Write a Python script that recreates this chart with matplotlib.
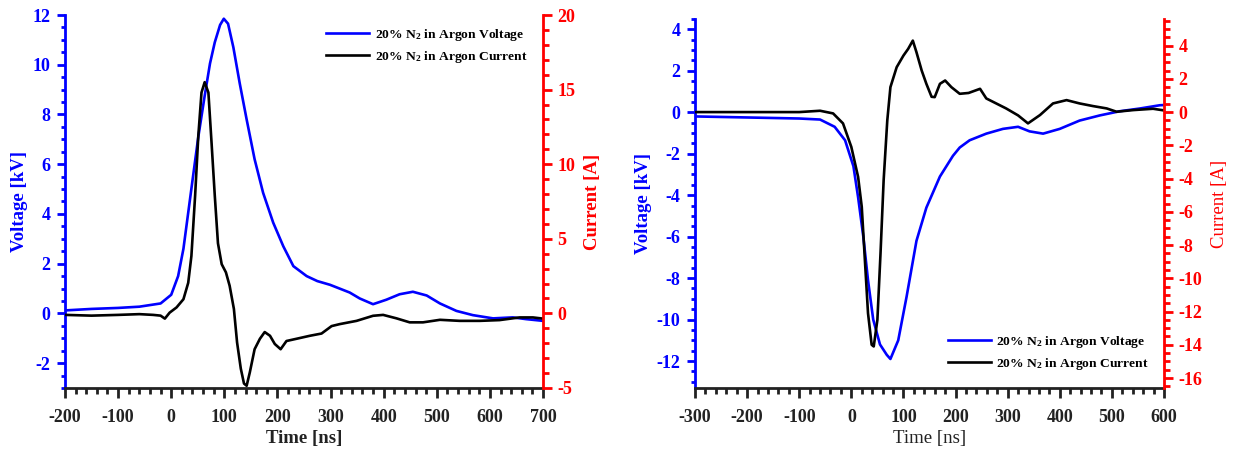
import numpy as np
import matplotlib
matplotlib.use("Agg")
import matplotlib.pyplot as plt
from matplotlib.ticker import MultipleLocator

plt.rcParams['font.family'] = 'Liberation Serif'
plt.rcParams['axes.unicode_minus'] = False
plt.rcParams['mathtext.fontset'] = 'custom'
plt.rcParams['mathtext.rm'] = 'Liberation Serif:bold'
plt.rcParams['mathtext.it'] = 'Liberation Serif:bold'
plt.rcParams['mathtext.bf'] = 'Liberation Serif:bold'

# ---- left panel: positive pulse ----
t_lv = [-200, -150, -100, -60, -20, 0, 13, 23, 32, 41, 51, 63, 73, 82, 92, 99, 107, 117, 129,
        142, 157, 173, 192, 211, 230, 255, 275, 299, 336, 355, 380, 405, 430, 455, 481, 506,
        537, 568, 606, 643, 668, 700]
v_lv = [0.12, 0.18, 0.22, 0.27, 0.4, 0.75, 1.5, 2.6, 4.05, 5.5, 7.1, 8.75, 10.05, 10.9, 11.6,
        11.85, 11.65, 10.7, 9.25, 7.8, 6.2, 4.85, 3.65, 2.7, 1.9, 1.5, 1.3, 1.15, 0.84, 0.6,
        0.37, 0.55, 0.77, 0.87, 0.72, 0.4, 0.1, -0.07, -0.2, -0.16, -0.23, -0.3]

t_li = [-200, -150, -100, -60, -34, -20, -12, -3, 10, 23, 32, 38, 45, 51, 57, 63, 70, 76, 82,
        88, 95, 103, 110, 118, 124, 131, 137, 142, 148, 157, 167, 176, 186, 195, 206, 217,
        236, 261, 283, 302, 317, 349, 380, 399, 424, 449, 474, 506, 543, 581, 618, 656, 681, 700]
i_li = [-0.1, -0.15, -0.1, -0.05, -0.1, -0.15, -0.35, 0.05, 0.4, 0.95, 2.05, 3.85, 7.9, 11.9,
        14.8, 15.5, 14.8, 11.4, 7.9, 4.7, 3.3, 2.75, 1.85, 0.3, -1.95, -3.7, -4.7, -4.85, -3.95,
        -2.4, -1.7, -1.25, -1.5, -2.05, -2.4, -1.85, -1.7, -1.5, -1.35, -0.85, -0.72, -0.5,
        -0.16, -0.1, -0.33, -0.6, -0.6, -0.43, -0.5, -0.5, -0.45, -0.27, -0.27, -0.35]

# ---- right panel: negative pulse ----
t_rv = [-300, -200, -100, -60, -32, -12, 4, 13, 23, 32, 42, 55, 68, 75, 90, 106, 125, 144, 170,
        195, 208, 227, 259, 291, 320, 342, 368, 400, 438, 477, 515, 553, 592, 600]
v_rv = [-0.2, -0.25, -0.3, -0.35, -0.7, -1.35, -2.6, -4.1, -6.0, -8.1, -10.0, -11.2, -11.7,
        -11.9, -11.0, -8.9, -6.2, -4.6, -3.1, -2.1, -1.7, -1.35, -1.03, -0.8, -0.7, -0.92,
        -1.03, -0.8, -0.4, -0.15, 0.05, 0.18, 0.34, 0.35]

t_ri = [-300, -200, -100, -60, -35, -16, 0, 13, 20, 26, 32, 39, 43, 50, 56, 62, 69, 75, 87, 100,
        109, 118, 125, 135, 144, 154, 160, 170, 180, 192, 208, 225, 247, 259, 278, 297, 320,
        339, 362, 387, 413, 438, 464, 490, 509, 541, 579, 600]
i_ri = [0.0, 0.0, 0.0, 0.08, -0.08, -0.68, -2.1, -3.9, -5.7, -8.9, -12.1, -14.0, -14.1, -12.5,
        -8.5, -4.1, -0.5, 1.5, 2.7, 3.4, 3.8, 4.3, 3.6, 2.5, 1.7, 0.92, 0.9, 1.7, 1.9, 1.5, 1.1,
        1.15, 1.4, 0.82, 0.52, 0.22, -0.2, -0.68, -0.18, 0.52, 0.72, 0.52, 0.36, 0.22, 0.02,
        0.12, 0.2, 0.1]

lbl_v = "20% N$_2$ in Argon Voltage"
lbl_i = "20% N$_2$ in Argon Current"

BLUE = '#0000FF'
RED = '#FF0000'
DARK = '#222222'

W, H = 1235, 450
fig = plt.figure(figsize=(W / 100, H / 100), dpi=100)


def make_panel(rect, t_v, v, t_i, cur, xlim, vlim, ilim, xmaj, vmaj, imaj, vmin_, imin_,
               bold_all, leg_anchor, leg_loc):
    ax = fig.add_axes(rect)
    ax2 = ax.twinx()
    lv, = ax.plot(t_v, v, color=BLUE, lw=1.9, label=lbl_v)
    li, = ax2.plot(t_i, cur, color='black', lw=1.9, label=lbl_i)
    ax.set_xlim(*xlim)
    ax.set_ylim(*vlim)
    ax2.set_ylim(*ilim)

    ax.xaxis.set_major_locator(MultipleLocator(xmaj))
    ax.xaxis.set_minor_locator(MultipleLocator(20))
    ax.yaxis.set_major_locator(MultipleLocator(vmaj))
    ax.yaxis.set_minor_locator(MultipleLocator(vmin_))
    ax2.yaxis.set_major_locator(MultipleLocator(imaj))
    ax2.yaxis.set_minor_locator(MultipleLocator(imin_))

    ax.spines['top'].set_visible(False)
    ax.spines['right'].set_visible(False)
    ax.spines['left'].set_color(BLUE)
    ax.spines['bottom'].set_color(DARK)
    for s in ['top', 'left', 'bottom']:
        ax2.spines[s].set_visible(False)
    ax2.spines['right'].set_color(RED)
    for sp in [ax.spines['left'], ax.spines['bottom'], ax2.spines['right']]:
        sp.set_linewidth(2.0)

    ax.tick_params(axis='x', which='major', length=7, width=2, colors=DARK, labelsize=13, pad=8)
    ax.tick_params(axis='x', which='minor', length=4, width=2, colors=DARK)
    ax.tick_params(axis='y', which='major', length=5.5, width=2, colors=BLUE, labelsize=13, pad=5)
    ax.tick_params(axis='y', which='minor', length=3, width=2, colors=BLUE)
    ax2.tick_params(axis='y', which='major', length=6.5, width=2, colors=RED, labelsize=13, pad=4)
    ax2.tick_params(axis='y', which='minor', length=4, width=2, colors=RED)
    for lab in ax.get_xticklabels() + ax.get_yticklabels() + ax2.get_yticklabels():
        lab.set_fontweight('bold')

    w2 = 'bold' if bold_all else 'normal'
    ax.set_xlabel('Time [ns]', fontsize=13.5, fontweight=w2, color=DARK, labelpad=3)
    ax.set_ylabel('Voltage [kV]', fontsize=13.5, fontweight='bold', color=BLUE, labelpad=3)
    ax2.set_ylabel('Current [A]', fontsize=13.5, fontweight=w2, color=RED, labelpad=6)

    ax2.legend([lv, li], [lbl_v, lbl_i], loc=leg_loc, bbox_to_anchor=leg_anchor,
               bbox_transform=fig.transFigure, frameon=False, prop={'weight': 'bold', 'size': 9.7},
               handlelength=3.2, handletextpad=0.4, labelspacing=0.45, borderpad=0, borderaxespad=0)
    return ax, ax2


make_panel([65 / W, 1 - 388 / H, (543 - 65) / W, (388 - 15) / H],
           t_lv, v_lv, t_li, i_li, (-200, 700), (-3, 12), (-5, 20),
           100, 2, 5, 0.5, 1, True, (326 / W, 1 - 27 / H), 'upper left')

make_panel([695 / W, 1 - 388 / H, (1164 - 695) / W, (388 - 19) / H],
           t_rv, v_rv, t_ri, i_ri, (-300, 600), (-13.3, 4.5), (-16.6, 5.6),
           100, 2, 2, 0.5, 0.5, False, (948 / W, 1 - 372 / H), 'lower left')

fig.savefig('out.png', dpi=100)
